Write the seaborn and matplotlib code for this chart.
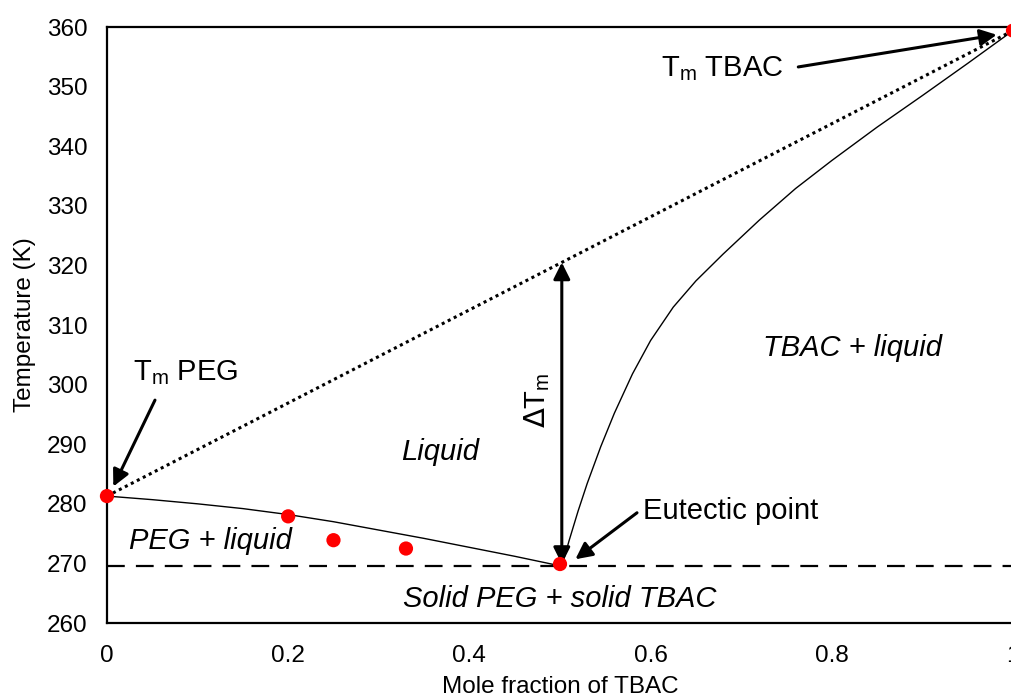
import matplotlib
matplotlib.use("Agg")
import matplotlib.pyplot as plt
import seaborn as sns

# Experimental points
exp_x = [0.0, 0.2, 0.25, 0.33, 0.5, 1.0]
exp_T = [281.3, 277.9, 273.9, 272.5, 269.9, 359.4]

# PEG-side liquidus
peg_x = [0.0, 0.05, 0.1, 0.15, 0.2, 0.25, 0.3, 0.35, 0.4, 0.45, 0.5]
peg_T = [281.3, 280.7, 280.0, 279.2, 278.2, 277.0, 275.6, 274.2, 272.7, 271.2, 269.6]

# TBAC-side liquidus
tbac_x = [0.502, 0.51, 0.52, 0.53, 0.545, 0.56, 0.58, 0.60, 0.625, 0.65, 0.68,
          0.72, 0.76, 0.80, 0.85, 0.90, 0.95, 1.0]
tbac_T = [269.5, 273.8, 278.8, 283.4, 289.6, 295.2, 301.8, 307.4, 313.0, 317.4, 321.9,
          327.6, 332.9, 337.6, 343.2, 348.5, 353.9, 359.4]

# ideal line between the melting points
ideal_x = [0.0, 1.0]
ideal_T = [281.3, 359.4]

eutectic_T = 269.5
xticks = [0, 0.2, 0.4, 0.6, 0.8, 1]
xtick_labels = ["0", "0.2", "0.4", "0.6", "0.8", "1"]
yticks = [260, 270, 280, 290, 300, 310, 320, 330, 340, 350, 360]

sns.set_theme(style="white")
plt.rcParams['font.family'] = ['Liberation Sans', 'DejaVu Sans']
plt.rcParams['text.color'] = 'black'
plt.rcParams['axes.labelcolor'] = 'black'

fig = plt.figure(figsize=(10.12, 6.98), dpi=100)
ax = fig.add_axes([0.1057, 0.1074, 0.8953, 0.8539])

sns.lineplot(x=peg_x, y=peg_T, ax=ax, color="black", lw=1.0, sort=False)
sns.lineplot(x=tbac_x, y=tbac_T, ax=ax, color="black", lw=1.0, sort=False)
ax.plot(ideal_x, ideal_T, color="black", lw=2.2, linestyle=(0, (1, 1.2)))
ax.axhline(eutectic_T, color="black", lw=1.6, linestyle=(0, (8, 5)))
sns.scatterplot(x=exp_x, y=exp_T, ax=ax, color="red", s=105, edgecolor="none", zorder=5, clip_on=False)

ax.set_xlim(0, 1)
ax.set_ylim(260, 360)
ax.set_xticks(xticks)
ax.set_xticklabels(xtick_labels)
ax.set_yticks(yticks)
ax.tick_params(axis="both", length=0, labelsize=17.5, colors="black")
ax.tick_params(axis="x", pad=16)
ax.tick_params(axis="y", pad=14)
ax.set_xlabel("Mole fraction of TBAC", fontsize=17.5, color="black", labelpad=6)
ax.set_ylabel("Temperature (K)", fontsize=17.5, color="black", labelpad=8)

for s in ["left", "bottom", "top"]:
    ax.spines[s].set_visible(True)
    ax.spines[s].set_color("black")
    ax.spines[s].set_linewidth(1.6)
ax.spines["right"].set_visible(False)

afs = 21
arrow = dict(arrowstyle="-|>", color="black", lw=2.2, mutation_scale=25, shrinkA=0, shrinkB=0)

# Tm TBAC
ax.text(0.612, 353.0, r"T$_\mathregular{m}$ TBAC", fontsize=afs, ha="left", va="center")
ax.annotate("", xy=(0.982, 358.7), xytext=(0.763, 353.3), arrowprops=arrow)
# Tm PEG
ax.text(0.029, 302.0, r"T$_\mathregular{m}$ PEG", fontsize=afs, ha="left", va="center")
ax.annotate("", xy=(0.007, 282.9), xytext=(0.053, 297.4), arrowprops=arrow)
# Eutectic point
ax.text(0.592, 278.8, "Eutectic point", fontsize=afs, ha="left", va="center")
ax.annotate("", xy=(0.517, 270.7), xytext=(0.585, 278.5), arrowprops=arrow)
# Delta Tm
ax.annotate("", xy=(0.502, 320.5), xytext=(0.502, 269.9),
            arrowprops=dict(arrowstyle="<|-|>", color="black", lw=2.2, mutation_scale=25, shrinkA=0, shrinkB=0))
ax.text(0.475, 297.4, r"$\Delta$T$_\mathregular{m}$", fontsize=afs, rotation=90, ha="center", va="center")

# Region labels
ax.text(0.368, 288.7, "Liquid", fontsize=afs, style="italic", ha="center", va="center")
ax.text(0.114, 273.8, "PEG + liquid", fontsize=afs, style="italic", ha="center", va="center")
ax.text(0.50, 264.0, "Solid PEG + solid TBAC", fontsize=afs, style="italic", ha="center", va="center")
ax.text(0.823, 306.1, "TBAC + liquid", fontsize=afs, style="italic", ha="center", va="center")

fig.savefig("out.png", dpi=100)
